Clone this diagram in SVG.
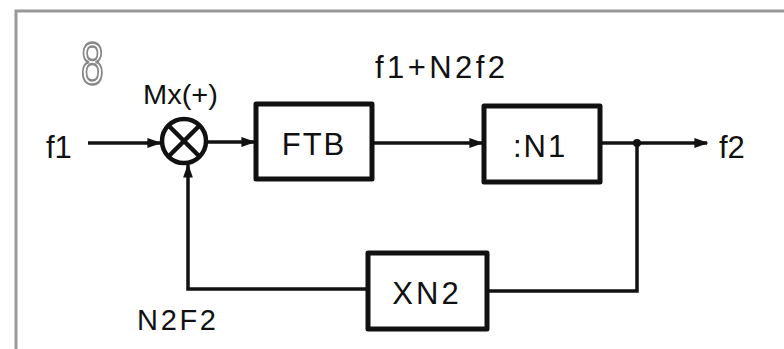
<svg xmlns="http://www.w3.org/2000/svg" width="784" height="349" viewBox="0 0 784 349">
<style>
.t{font-family:"Liberation Sans","DejaVu Sans",sans-serif;fill:#111;}
.box{fill:none;stroke:#111;stroke-width:5;stroke-linejoin:round;}
.ln{fill:none;stroke:#111;stroke-width:3.5;}
</style>
<defs>
<marker id="ar" viewBox="0 0 10 10" refX="9" refY="5" markerWidth="4" markerHeight="4" orient="auto" markerUnits="strokeWidth">
<path d="M0,1.5 L10,5 L0,8.5 z" fill="#111"/>
</marker>
</defs>
<rect width="784" height="349" fill="#fff"/>
<path d="M16,349 V11 H784" fill="none" stroke="#999" stroke-width="3"/>
<text x="0" y="0" transform="translate(81,84) scale(0.68,1)" class="t" font-size="60" style="fill:#fff;stroke:#888;stroke-width:2.5">8</text>
<g id="connectors">
<path class="ln" d="M88,143 H160" marker-end="url(#ar)"/>
<path class="ln" d="M207,142 H254" marker-end="url(#ar)"/>
<path class="ln" d="M373,143 H482" marker-end="url(#ar)"/>
<path class="ln" d="M601,143 H707" marker-end="url(#ar)"/>
<path class="ln" d="M637,143 V291 H488"/>
<path class="ln" d="M367,289 H188 V165" marker-end="url(#ar)"/>
<circle cx="637" cy="143" r="4" fill="#111"/>
</g>
<g id="mixer">
<circle cx="184" cy="141" r="22" fill="#fff" stroke="#111" stroke-width="4.5"/>
<path d="M168.5,125.5 L199.5,156.5 M199.5,125.5 L168.5,156.5" stroke="#111" stroke-width="4.5"/>
<text x="143" y="104" class="t" font-size="27" textLength="75" lengthAdjust="spacingAndGlyphs">Mx(+)</text>
</g>
<g id="ftb">
<rect class="box" x="256" y="104" width="116" height="75"/>
<text x="314" y="155" class="t" font-size="31" text-anchor="middle" letter-spacing="2">FTB</text>
</g>
<g id="n1">
<rect class="box" x="484" y="106" width="116" height="76"/>
<text x="540" y="157" class="t" font-size="31" text-anchor="middle" letter-spacing="2">:N1</text>
</g>
<g id="xn2">
<rect class="box" x="368" y="253" width="119" height="76"/>
<text x="427" y="304" class="t" font-size="31" text-anchor="middle" letter-spacing="3">XN2</text>
</g>
<text x="46" y="158" class="t" font-size="31">f1</text>
<text x="719" y="158" class="t" font-size="31">f2</text>
<text x="375" y="78" class="t" font-size="31" textLength="130" lengthAdjust="spacing">f1+N2f2</text>
<text x="137" y="330" class="t" font-size="29" textLength="79" lengthAdjust="spacing">N2F2</text>
</svg>
